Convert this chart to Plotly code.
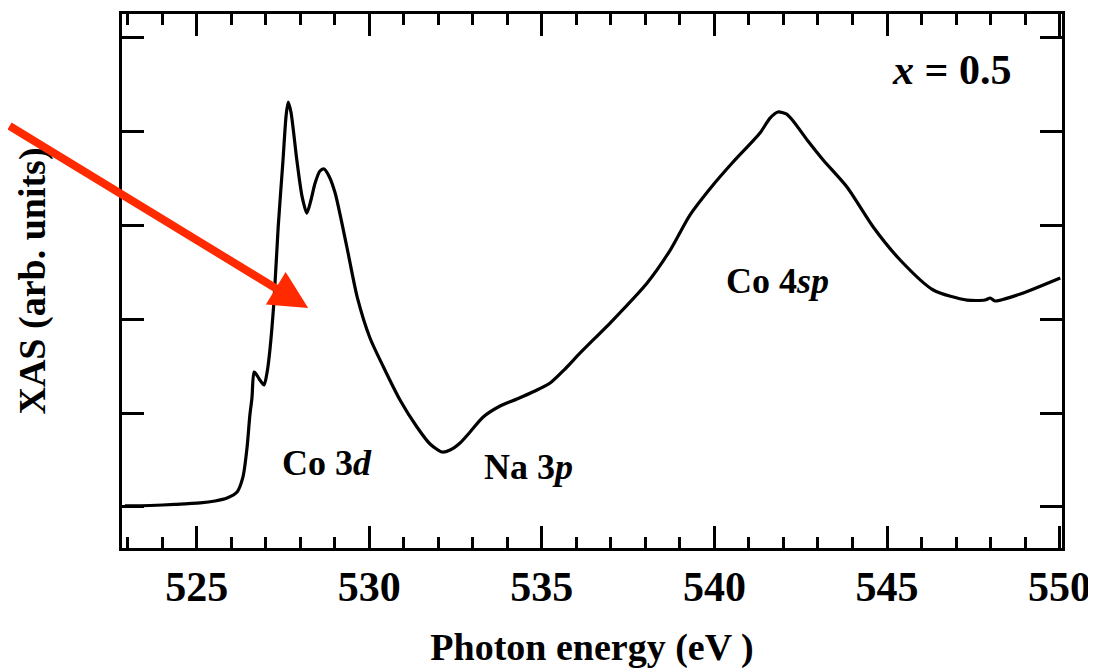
import plotly.graph_objects as go

# Photon energy (eV) and XAS intensity (arb. units)
energy = [522.92, 523.65, 524.37, 525.10, 525.53, 525.88, 526.17, 526.34, 526.46, 526.54,
          526.60, 526.66, 526.72, 526.81, 526.95, 527.04, 527.12, 527.24, 527.36, 527.50,
          527.59, 527.65, 527.73, 527.90, 528.05, 528.19, 528.31, 528.43, 528.57, 528.69,
          528.83, 529.01, 529.35, 529.65, 530.02, 530.41, 530.89, 531.38, 531.76, 532.11,
          532.34, 532.63, 532.92, 533.30, 533.79, 534.28, 534.80, 535.24, 535.67, 536.11,
          537.06, 538.05, 538.72, 539.29, 539.96, 540.54, 541.32, 541.61, 541.84, 542.08,
          542.28, 542.71, 543.15, 543.84, 544.60, 545.38, 546.34, 547.32, 547.84, 547.99,
          548.13, 548.86, 550.02]
xas = [0.011, 0.016, 0.027, 0.043, 0.064, 0.096, 0.160, 0.320, 0.639, 0.980,
       1.161, 1.438, 1.417, 1.364, 1.300, 1.438, 1.673, 2.205, 2.983, 3.697,
       4.172, 4.315, 4.209, 3.697, 3.313, 3.132, 3.271, 3.452, 3.580, 3.601,
       3.527, 3.345, 2.770, 2.237, 1.801, 1.492, 1.140, 0.852, 0.671, 0.586,
       0.607, 0.682, 0.799, 0.959, 1.076, 1.151, 1.236, 1.321, 1.470, 1.641,
       1.992, 2.387, 2.738, 3.110, 3.431, 3.676, 3.985, 4.144, 4.209, 4.188,
       4.113, 3.899, 3.697, 3.409, 2.983, 2.632, 2.312, 2.205, 2.205, 2.227,
       2.195, 2.269, 2.440]

x_ticks = [525, 530, 535, 540, 545, 550]
y_ticks = [0, 1, 2, 3, 4, 5]

labels = ["<b>Co 3<i>d</i></b>", "<b>Na 3<i>p</i></b>", "<b>Co 4<i>sp</i></b>", "<b><i>x</i> = 0.5</b>"]
label_x = [528.78, 534.60, 541.84, 546.86]
label_y = [0.469, 0.430, 2.408, 4.656]
label_size = [36, 36, 36, 42]

arrow_tip = (528.23, 2.12)

FONT = "Liberation Serif"

fig = go.Figure()
fig.add_trace(go.Scatter(x=energy, y=xas, mode="lines",
                         line=dict(color="black", width=3.2, shape="spline", smoothing=0.7),
                         showlegend=False, hoverinfo="skip"))

for t, lx, ly, sz in zip(labels, label_x, label_y, label_size):
    fig.add_annotation(x=lx, y=ly, text=t, showarrow=False,
                       font=dict(family=FONT, size=sz, color="black"),
                       xanchor="center", yanchor="middle")

fig.add_annotation(x=arrow_tip[0], y=arrow_tip[1], text="", showarrow=True,
                   ax=-308, ay=-183, arrowcolor="#FF2A00", arrowwidth=8,
                   arrowhead=2, arrowsize=0.95, standoff=0)

axis_common = dict(showgrid=False, zeroline=False, showline=True, linecolor="black",
                   linewidth=3, mirror="ticks", ticks="inside", tickcolor="black",
                   tickwidth=3, ticklen=22)

fig.update_xaxes(range=[522.835, 550.07], tickvals=x_ticks,
                 tickfont=dict(family=FONT, size=42, color="black", weight="bold"),
                 minor=dict(dtick=1, tick0=525, ticks="inside", ticklen=11, tickwidth=3,
                            tickcolor="black", showgrid=False),
                 title=dict(text="<b>Photon energy (eV )</b>",
                            font=dict(family=FONT, size=38, color="black"), standoff=24),
                 **axis_common)
fig.update_yaxes(range=[-0.437, 5.253], tickvals=y_ticks, showticklabels=False,
                 title=dict(text="<b>XAS (arb. units)</b>",
                            font=dict(family=FONT, size=38, color="black"), standoff=62),
                 **axis_common)

fig.update_layout(width=1088, height=663, plot_bgcolor="white", paper_bgcolor="white",
                  margin=dict(l=114, r=34, t=6, b=123, autoexpand=False))

fig.write_html("out.html")
